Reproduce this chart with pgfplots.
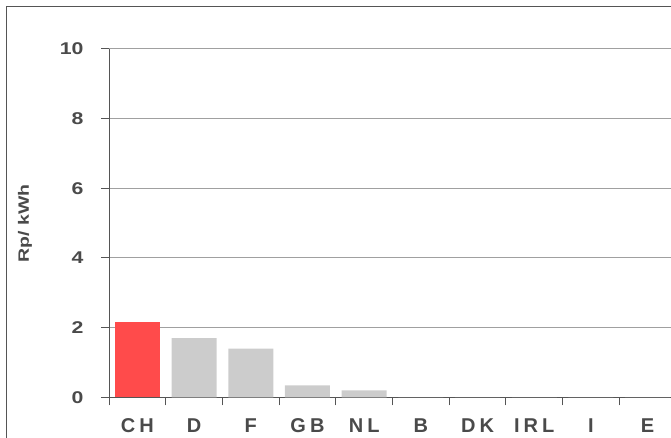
\documentclass[border=0pt]{standalone}
\usepackage{pgfplots}
\pgfplotsset{compat=1.18}
\usepackage{fontspec}
\setmainfont{Liberation Sans}
\definecolor{txt}{HTML}{4A4A4A}
\definecolor{axc}{HTML}{555555}
\definecolor{gridc}{HTML}{A0A0A0}
\definecolor{barred}{HTML}{FF4B4B}
\definecolor{bargray}{HTML}{CCCCCC}
\newcommand{\xl}[1]{{\addfontfeature{LetterSpace=20}#1}}
\begin{document}
\begin{tikzpicture}
\useasboundingbox (0pt,0pt) rectangle (671pt,438pt);
\clip (0pt,0pt) rectangle (671pt,438pt);
\draw[color=axc, line width=1pt] (6pt,-20pt) -- (6pt,431pt) -- (700pt,431pt);
\begin{axis}[
  at={(109pt,40.7pt)}, anchor=south west,
  scale only axis, width=567pt, height=348.3pt,
  xmin=-0.5, xmax=9.5, ymin=0, ymax=10,
  axis lines*=left,
  axis line style={color=axc, line width=1pt},
  ytick={0,2,...,10},
  ymajorgrids, grid style={color=gridc, line width=1pt},
  tick align=outside, major tick length=8pt,
  tick style={color=axc, line width=1pt},
  xtick={-0.5,0.5,...,9.5}, xticklabels={},
  extra x ticks={0,1,...,9},
  extra x tick labels={\xl{CH},\xl{D},\xl{F},\xl{GB},\xl{NL},\xl{B},\xl{DK},\xl{IRL},\xl{I},\xl{E}},
  extra x tick style={major tick length=0pt, grid=none,
     xticklabel style={anchor=base, yshift=-35pt}},
  xticklabel style={font=\bfseries\fontsize{20}{22}\selectfont, color=txt},
  yticklabel={\scalebox{1.25}[1]{\pgfmathprintnumber{\tick}}},
  yticklabel style={font=\bfseries\fontsize{17}{19}\selectfont, color=txt, xshift=-14pt},
  /pgf/number format/assume math mode=true,
  ylabel={\scalebox{1.3}[1]{Rp/ kWh}},
  ylabel style={font=\bfseries\fontsize{15}{17}\selectfont, color=txt, at={(axis description cs:-0.148,0.5)}, anchor=center},
]
\addplot[ybar, bar width=45pt, bar shift=0pt, fill=barred, draw=none] coordinates {(0,2.16)};
\addplot[ybar, bar width=45pt, bar shift=0pt, fill=bargray, draw=none] coordinates {
 (1,1.70) (2,1.40) (3,0.34) (4,0.20) (5,0) (6,0) (7,0) (8,0) (9,0)};
\end{axis}
\end{tikzpicture}
\end{document}
